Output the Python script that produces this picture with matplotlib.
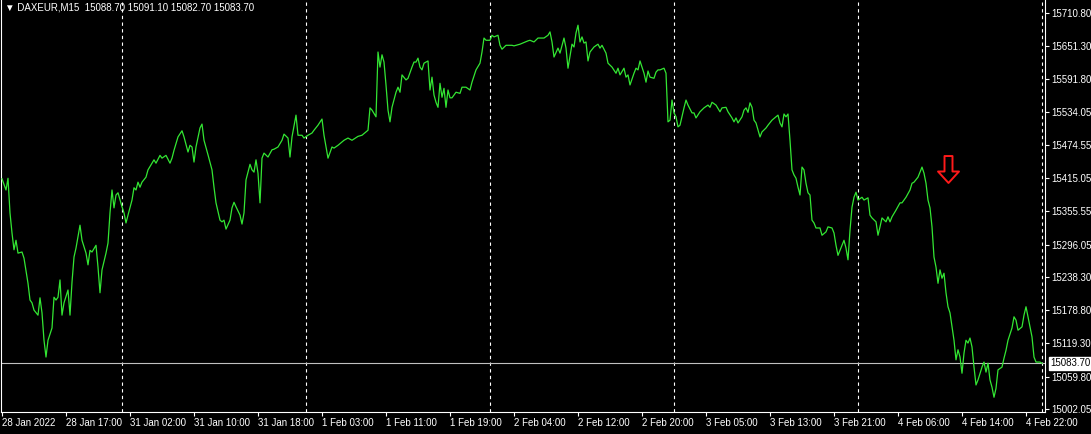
"""DAXEUR M15 line chart, MetaTrader style: black background, lime close line,
dashed day separators, price scale on the right and the bid line with its label."""
import matplotlib

matplotlib.use("Agg")
import matplotlib.pyplot as plt
from matplotlib.path import Path

GREEN, RED, GREY = "#33e633", "#ff1a1a", "#c0c0c0"

# bar index (15 min bars) and close price
bars = [1, 3, 4, 5, 6, 7, 8, 9, 11, 12, 14, 15, 16, 17, 19, 20, 21, 22, 23, 24,
        26, 27, 28, 29, 30, 31, 32, 34, 35, 36, 37, 38, 40, 41, 43, 44, 45, 46, 48, 49,
        50, 51, 53, 54, 55, 56, 57, 58, 59, 61, 62, 63, 64, 66, 67, 68, 69, 70, 71, 73,
        74, 76, 77, 78, 80, 81, 83, 85, 86, 87, 89, 91, 92, 94, 95, 96, 97, 98, 100, 101,
        102, 104, 106, 107, 108, 110, 111, 112, 113, 115, 116, 117, 118, 120, 121, 122, 123, 125, 126, 127,
        128, 129, 130, 131, 132, 134, 136, 137, 139, 141, 142, 144, 145, 146, 148, 149, 151, 152, 154, 156,
        157, 159, 161, 162, 164, 166, 167, 169, 171, 172, 174, 176, 179, 181, 184, 185, 186, 188, 189, 190,
        191, 192, 193, 194, 195, 196, 198, 199, 200, 201, 203, 204, 206, 207, 208, 209, 210, 211, 212, 214,
        215, 216, 217, 218, 219, 220, 221, 222, 223, 224, 225, 226, 228, 230, 231, 233, 235, 236, 238, 240,
        241, 242, 243, 245, 246, 247, 249, 250, 251, 253, 256, 257, 260, 264, 265, 267, 269, 272, 274, 275,
        276, 277, 279, 280, 282, 283, 284, 286, 287, 288, 289, 290, 291, 292, 293, 294, 295, 297, 299, 300,
        301, 303, 304, 306, 308, 309, 310, 312, 313, 314, 315, 317, 318, 319, 320, 322, 323, 324, 325, 327,
        328, 329, 330, 332, 333, 334, 335, 336, 337, 338, 339, 340, 342, 343, 344, 346, 347, 348, 350, 352,
        354, 355, 356, 358, 360, 361, 363, 364, 366, 367, 368, 369, 371, 372, 373, 374, 375, 376, 377, 378,
        380, 381, 383, 384, 386, 388, 389, 390, 391, 392, 393, 394, 395, 396, 397, 398, 399, 400, 401, 402,
        403, 404, 405, 406, 407, 408, 410, 411, 413, 414, 416, 417, 418, 419, 421, 422, 423, 424, 425, 426,
        427, 428, 429, 431, 432, 434, 435, 436, 438, 439, 440, 441, 443, 444, 445, 446, 448, 450, 451, 453,
        455, 456, 457, 459, 460, 461, 462, 463, 464, 465, 466, 467, 468, 469, 470, 471, 472, 473, 474, 475,
        476, 477, 478, 479, 480, 481, 482, 483, 484, 485, 486, 487, 488, 489, 491, 492, 493, 494, 495, 496,
        497, 498, 499, 501, 502, 503, 504, 506, 507, 508, 509, 511, 512, 513, 514, 516, 517, 518, 520, 521]
closes = [15414, 15394, 15415, 15353, 15317, 15287, 15304, 15281, 15283, 15272,
          15227, 15197, 15192, 15179, 15170, 15201, 15174, 15125, 15095, 15125,
          15147, 15202, 15197, 15202, 15233, 15170, 15192, 15215, 15170, 15229,
          15274, 15290, 15331, 15304, 15281, 15260, 15286, 15283, 15295, 15256,
          15210, 15251, 15281, 15299, 15353, 15394, 15362, 15385, 15389, 15364,
          15353, 15335, 15349, 15376, 15398, 15394, 15408, 15399, 15408, 15417,
          15430, 15442, 15448, 15442, 15456, 15451, 15456, 15442, 15451, 15465,
          15489, 15500, 15489, 15462, 15474, 15471, 15444, 15471, 15505, 15512,
          15483, 15457, 15430, 15399, 15371, 15340, 15337, 15340, 15324, 15340,
          15362, 15372, 15364, 15349, 15333, 15353, 15412, 15440, 15430, 15426,
          15448, 15424, 15371, 15451, 15460, 15453, 15466, 15467, 15471, 15483,
          15494, 15487, 15453, 15489, 15528, 15492, 15492, 15487, 15492, 15496,
          15501, 15510, 15521, 15492, 15451, 15471, 15469, 15474, 15480, 15483,
          15487, 15483, 15490, 15492, 15501, 15541, 15537, 15525, 15641, 15614,
          15636, 15623, 15582, 15537, 15516, 15542, 15569, 15578, 15569, 15600,
          15591, 15594, 15614, 15623, 15623, 15630, 15614, 15609, 15621, 15625,
          15573, 15596, 15564, 15551, 15542, 15585, 15560, 15576, 15542, 15573,
          15559, 15559, 15569, 15567, 15578, 15578, 15573, 15587, 15609, 15621,
          15641, 15666, 15662, 15662, 15671, 15668, 15671, 15653, 15646, 15653,
          15653, 15652, 15655, 15661, 15662, 15659, 15666, 15666, 15671, 15677,
          15659, 15632, 15648, 15639, 15666, 15648, 15612, 15655, 15650, 15675,
          15689, 15659, 15668, 15657, 15659, 15625, 15641, 15650, 15655, 15648,
          15653, 15639, 15621, 15614, 15603, 15612, 15600, 15612, 15596, 15600,
          15582, 15603, 15612, 15609, 15625, 15603, 15587, 15607, 15596, 15594,
          15605, 15609, 15609, 15612, 15603, 15516, 15519, 15555, 15532, 15525,
          15507, 15510, 15541, 15555, 15546, 15532, 15532, 15523, 15534, 15541,
          15546, 15542, 15551, 15546, 15534, 15541, 15542, 15534, 15523, 15516,
          15523, 15514, 15525, 15537, 15541, 15533, 15550, 15542, 15519, 15514,
          15489, 15498, 15505, 15510, 15519, 15525, 15528, 15514, 15507, 15530,
          15525, 15530, 15483, 15430, 15421, 15415, 15399, 15385, 15435, 15430,
          15406, 15389, 15385, 15340, 15335, 15326, 15326, 15313, 15319, 15328,
          15326, 15317, 15295, 15277, 15295, 15304, 15290, 15269, 15322, 15363,
          15381, 15390, 15376, 15381, 15376, 15380, 15349, 15344, 15337, 15313,
          15328, 15344, 15337, 15346, 15337, 15346, 15358, 15371, 15371, 15381,
          15394, 15406, 15408, 15417, 15426, 15435, 15424, 15406, 15376, 15362,
          15328, 15274, 15256, 15227, 15251, 15236, 15245, 15210, 15185, 15174,
          15149, 15125, 15090, 15108, 15095, 15066, 15102, 15125, 15120, 15129,
          15113, 15077, 15045, 15054, 15077, 15086, 15068, 15084, 15054, 15041,
          15023, 15039, 15072, 15077, 15093, 15107, 15125, 15147, 15167, 15161,
          15143, 15149, 15170, 15185, 15167, 15131, 15095, 15086, 15086, 15083.7]

tick_bars = [1, 33, 65, 97, 129, 161, 193, 225, 257, 289, 321, 353, 385, 417, 449, 481, 513]
tick_labels = ["28 Jan 2022", "28 Jan 17:00", "31 Jan 02:00", "31 Jan 10:00", "31 Jan 18:00",
               "1 Feb 03:00", "1 Feb 11:00", "1 Feb 19:00", "2 Feb 04:00", "2 Feb 12:00",
               "2 Feb 20:00", "3 Feb 05:00", "3 Feb 13:00", "3 Feb 21:00", "4 Feb 06:00",
               "4 Feb 14:00", "4 Feb 22:00"]
price_ticks = [15710.80, 15651.30, 15591.80, 15534.05, 15474.55, 15415.05, 15355.55,
               15296.05, 15238.30, 15178.80, 15119.30, 15059.80, 15002.05]
day_starts = [61, 153, 245, 337, 429, 521]
bid = 15083.70
ohlc = [15088.70, 15091.10, 15082.70, 15083.70]
arrow_bar, arrow_price = 474, 15432

plt.rcParams["font.family"] = ["Liberation Sans", "DejaVu Sans"]

W, H = 1091, 434
fig = plt.figure(figsize=(W / 100, H / 100), dpi=100, facecolor="black")
ax = fig.add_axes([1 / W, 22 / H, 1044 / W, 412 / H], facecolor="black")

for b in day_starts:
    ax.axvline(b, color="white", lw=0.8, ls=(0, (3, 3)), zorder=1)
ax.axhline(bid, color=GREY, lw=0.8, zorder=2)
ax.plot(bars, closes, color=GREEN, lw=0.9, zorder=3)

# hollow down arrow object
arrow = Path([(-4, 13.5), (4, 13.5), (4, -2), (10.5, -2), (0, -13.5),
              (-10.5, -2), (-4, -2), (-4, 13.5)],
             [Path.MOVETO] + [Path.LINETO] * 6 + [Path.CLOSEPOLY])
ax.plot([arrow_bar], [arrow_price], marker=arrow, ms=19.4, mfc="black",
        mec=RED, mew=1.4, ls="none", zorder=4)

ax.set_xlim(0.5, 522.5)
ax.set_ylim(14996.6, 15734.1)

ax.yaxis.tick_right()
ax.set_yticks(price_ticks, [f"{p:.2f}" for p in price_ticks])
ax.set_xticks(tick_bars, tick_labels)
for lbl in ax.get_xticklabels():
    lbl.set_horizontalalignment("left")
ax.tick_params(axis="y", colors="white", length=3, width=0.8, pad=1.5, labelsize=7)
ax.tick_params(axis="x", colors="white", length=3, width=0.8, pad=1.5, labelsize=7)

ax.spines["top"].set_visible(False)
for s in ("left", "bottom", "right"):
    ax.spines[s].set_color("white")
    ax.spines[s].set_linewidth(0.8)

ax.text(1 + 5 / 1044, bid, f"{bid:.2f}", transform=ax.get_yaxis_transform(),
        ha="left", va="center", fontsize=7, color="black", zorder=5,
        bbox=dict(boxstyle="square,pad=0.15", facecolor="white", edgecolor="white"))

fig.text(5 / W, 1 - 7 / H, "\u25bc DAXEUR,M15  " + " ".join(f"{v:.2f}" for v in ohlc),
         color="white", fontsize=7, ha="left", va="center")

fig.savefig("out.png", dpi=100, facecolor="black")
